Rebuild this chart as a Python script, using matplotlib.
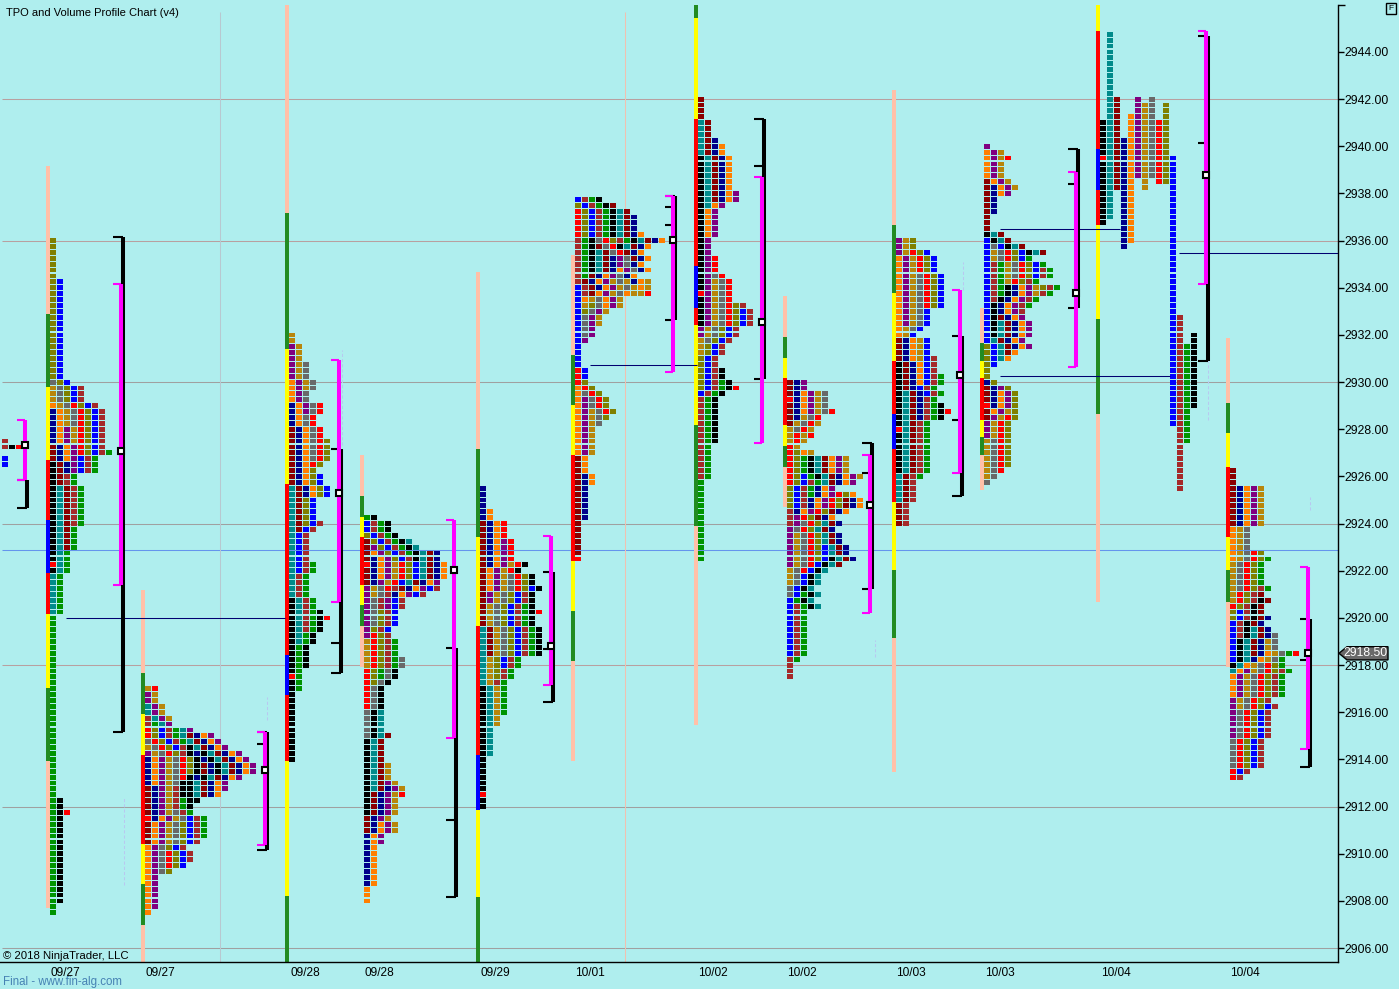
import matplotlib
matplotlib.use("Agg")
import matplotlib.pyplot as plt
from matplotlib.patches import Polygon

plt.rcParams['font.family'] = ['Liberation Sans', 'DejaVu Sans']

BG = "#AFEEEE"
tpo_colors = {"K": "#000000", "T": "#008B8B", "M": "#8B0000", "N": "#00008B", "O": "#FF7F00",
              "P": "#800080", "G": "#B8860B", "Y": "#696969", "R": "#FF0000", "L": "#808000",
              "B": "#0000FF", "W": "#A52A2A", "E": "#009400"}
bar_colors = {"p": "#FFC0A8", "g": "#228B22", "y": "#FFFF00", "r": "#FF0000", "b": "#0000FF"}

# each session: time ordered periods (colour, high, low), cells stack left to right per price row
s0 = [("W", 2927.5, 2927.25), ("B", 2926.75, 2926.5), ("K", 2927.25, 2927.25), ("R", 2927.25, 2927.25)]
s1 = [("K", 2926.5, 2922), ("T", 2925.5, 2920.25), ("M", 2927.25, 2923), ("N", 2928.75, 2926.25),
      ("O", 2929, 2926.75), ("P", 2928, 2926.25), ("G", 2929.75, 2927.5), ("Y", 2930, 2928.25),
      ("R", 2929, 2927), ("L", 2936, 2927), ("B", 2934.25, 2926.25), ("W", 2929.75, 2924),
      ("E", 2927, 2907.5), ("K", 2912.25, 2908), ("R", 2911.75, 2911.75)]
s2 = [("M", 2912.75, 2910.5), ("N", 2914, 2911.5), ("O", 2914, 2913), ("O", 2911.5, 2907.5),
      ("P", 2914.25, 2907.75), ("G", 2914.5, 2910.5), ("Y", 2914.75, 2913), ("Y", 2911.75, 2909.25),
      ("R", 2915.25, 2913.25), ("R", 2910, 2909.5), ("L", 2915.25, 2913.5), ("L", 2911.25, 2909.25),
      ("B", 2915.25, 2914.5), ("B", 2911.5, 2909.5), ("W", 2915.75, 2914.25), ("W", 2912.75, 2909.75),
      ("E", 2915.5, 2914.75), ("E", 2912.25, 2910.75), ("K", 2914.5, 2912.25), ("M", 2913.75, 2913.5),
      ("N", 2914.25, 2913.25), ("K", 2914.25, 2912), ("T", 2916.25, 2912.5), ("M", 2915, 2912.5),
      ("N", 2915, 2912.5), ("O", 2915, 2912.5), ("P", 2916.75, 2912.75), ("G", 2917, 2915.75),
      ("R", 2917, 2917)]
s3 = [("K", 2920.75, 2914), ("T", 2925.5, 2919), ("M", 2928, 2923.75), ("N", 2929, 2925.25),
      ("O", 2930, 2925.25), ("P", 2931.5, 2928.75), ("G", 2932, 2929.75), ("Y", 2930.75, 2926.75),
      ("R", 2929, 2926.5), ("L", 2927.5, 2924), ("B", 2926, 2922), ("W", 2924, 2919.5),
      ("E", 2922.25, 2917), ("K", 2920.25, 2918), ("R", 2920, 2920)]
s4 = [("M", 2923.25, 2921.5), ("N", 2922.5, 2921.5), ("O", 2922.75, 2921.75), ("P", 2923, 2919.25),
      ("G", 2922.25, 2921), ("G", 2919, 2918), ("Y", 2921.25, 2919.75), ("R", 2922.25, 2921.25),
      ("R", 2919.25, 2916.25), ("L", 2923.5, 2921.75), ("L", 2920.25, 2917.25), ("B", 2924, 2921.5),
      ("W", 2924, 2922.5), ("W", 2921.25, 2918), ("E", 2924.25, 2922.75), ("E", 2919, 2917.5),
      ("Y", 2918.25, 2915), ("K", 2924.25, 2922.5), ("K", 2917.75, 2911.75), ("T", 2923.25, 2921.5),
      ("T", 2916, 2912.75), ("M", 2922.75, 2921.25), ("M", 2915, 2911), ("N", 2922.75, 2921),
      ("N", 2912.75, 2908.75), ("O", 2922.25, 2921), ("O", 2911.25, 2908), ("P", 2921.5, 2920.5),
      ("P", 2913, 2910.5), ("B", 2921.25, 2919.5), ("W", 2921.25, 2920.5), ("G", 2913.75, 2911),
      ("R", 2912.5, 2912.5)]
s5 = [("K", 2917, 2912), ("T", 2919.5, 2914.25), ("M", 2924, 2918.5), ("N", 2925.5, 2922.25),
      ("O", 2924.5, 2921.25), ("P", 2923.25, 2920.75), ("G", 2922.25, 2915.5), ("Y", 2921.75, 2918.5),
      ("R", 2924, 2921.25), ("L", 2921.75, 2917.5), ("B", 2921.25, 2918), ("W", 2921, 2917.25),
      ("E", 2920.5, 2916), ("K", 2922.25, 2918.5), ("R", 2920.25, 2920.25)]
s6 = [("M", 2926.75, 2922.5), ("N", 2926, 2924.25), ("O", 2929.75, 2925.75), ("P", 2929.25, 2927),
      ("G", 2928.75, 2927), ("Y", 2929.5, 2928.25), ("R", 2930.5, 2928.75), ("L", 2930, 2928.5),
      ("B", 2934, 2930.25), ("W", 2936, 2933.75), ("E", 2936, 2934.5), ("K", 2936, 2934.75),
      ("T", 2935.5, 2934.75), ("M", 2935.75, 2933.75), ("N", 2935.25, 2934), ("O", 2934.75, 2933.5),
      ("P", 2935.25, 2933.75), ("G", 2934.25, 2933.25), ("L", 2933.25, 2933), ("Y", 2936, 2932),
      ("O", 2933.75, 2933.25), ("P", 2933.5, 2931.75), ("G", 2934.25, 2932.5), ("R", 2937.25, 2935.5),
      ("L", 2937.5, 2936), ("B", 2937.75, 2936.25), ("W", 2937.75, 2936), ("E", 2937.75, 2936),
      ("K", 2937.75, 2935.75), ("T", 2937.25, 2935.75), ("M", 2937.5, 2935.25), ("N", 2937, 2934.25),
      ("O", 2936.25, 2934), ("G", 2934.25, 2933.75), ("R", 2933.75, 2933.75)]
s7 = [("K", 2939.5, 2932.5), ("T", 2941, 2937.5), ("M", 2942, 2937.75), ("N", 2940.25, 2937.75),
      ("O", 2940, 2936.25), ("P", 2938, 2932), ("G", 2934.25, 2931.25), ("Y", 2934.5, 2931.75),
      ("R", 2935.25, 2932.5), ("L", 2933.25, 2929.75), ("B", 2933, 2929.5), ("W", 2933.25, 2926),
      ("E", 2930, 2922.5), ("K", 2930.5, 2927.5), ("R", 2929.75, 2929.75)]
s8 = [("M", 2930, 2928.25), ("N", 2930, 2928.5), ("O", 2929.5, 2928.75), ("P", 2930, 2928.75),
      ("G", 2929.5, 2927.5), ("Y", 2929.5, 2928), ("R", 2928.75, 2925.75), ("L", 2927, 2924.75),
      ("B", 2926, 2924.75), ("W", 2925.75, 2924), ("E", 2926.75, 2925.25), ("K", 2926.75, 2926),
      ("T", 2926.75, 2925.75), ("M", 2926.75, 2925.75), ("N", 2926, 2924.5), ("O", 2927, 2924.5),
      ("P", 2926.75, 2924), ("G", 2928.25, 2926), ("R", 2927.75, 2927.75), ("P", 2923.75, 2922.25),
      ("G", 2923.5, 2921.5), ("Y", 2924, 2921), ("R", 2925.25, 2922), ("L", 2925.25, 2922.5),
      ("B", 2923, 2918.5), ("W", 2920.5, 2917.5), ("E", 2921, 2918.25), ("K", 2922.5, 2920.5),
      ("T", 2924, 2920.5), ("M", 2925, 2922.25), ("N", 2925, 2922.5), ("O", 2925.25, 2924.25)]
s9 = [("K", 2930.75, 2926.25), ("T", 2929.5, 2925), ("M", 2931.75, 2924), ("N", 2931.75, 2928.5),
      ("O", 2935.25, 2930), ("P", 2936, 2932.5), ("G", 2936, 2931), ("Y", 2934.5, 2932.25),
      ("R", 2935.5, 2933.25), ("L", 2936, 2933.25), ("B", 2935.5, 2929.5), ("W", 2931, 2924),
      ("E", 2930.25, 2926), ("K", 2929, 2928.5), ("R", 2928.75, 2928.75)]
s10 = [("M", 2929.75, 2928.5), ("N", 2930, 2929), ("O", 2929.5, 2928.75), ("P", 2929.75, 2927.75),
       ("G", 2928.75, 2926), ("Y", 2927.5, 2925.75), ("R", 2928.5, 2926.25), ("L", 2931.5, 2926.5),
       ("B", 2936, 2930.75), ("W", 2935, 2933.5), ("E", 2935, 2933.75), ("K", 2934, 2932),
       ("T", 2932.5, 2931), ("M", 2938.5, 2936.5), ("M", 2932.75, 2931.25), ("N", 2938.25, 2937.25),
       ("N", 2934, 2931.5), ("O", 2939.75, 2938), ("O", 2934, 2931), ("P", 2940, 2938),
       ("P", 2934, 2931.5), ("G", 2939.75, 2938.25), ("G", 2935.5, 2933.75), ("R", 2939.5, 2939.5),
       ("Y", 2935.75, 2934.5), ("R", 2935.5, 2934.25), ("L", 2935.5, 2934), ("B", 2935.75, 2934.5),
       ("W", 2934.75, 2933), ("E", 2935.25, 2933.25), ("K", 2936.25, 2935.5), ("T", 2936.25, 2935.5),
       ("M", 2936.25, 2935.5)]
s11 = [("K", 2941, 2936.75), ("T", 2944.75, 2937), ("M", 2942, 2938.25), ("N", 2940.25, 2935.75),
       ("O", 2941.25, 2936), ("P", 2942, 2938.75), ("G", 2941.75, 2938.25), ("Y", 2942, 2938.75),
       ("R", 2941, 2938.5), ("L", 2941.75, 2938.5), ("B", 2939.5, 2928.25), ("W", 2932.75, 2925.5),
       ("E", 2931.5, 2927.5), ("K", 2932, 2929)]
s12 = [("M", 2926.25, 2924), ("N", 2925.5, 2924), ("O", 2925.5, 2922.5), ("P", 2925.5, 2924),
       ("G", 2925.5, 2920.75), ("Y", 2923.75, 2921.25), ("R", 2922.75, 2920.5), ("L", 2922.75, 2920),
       ("B", 2920.25, 2918.25), ("W", 2921.25, 2919.25), ("E", 2922.5, 2921.25), ("K", 2920.75, 2918),
       ("T", 2919.5, 2917.75), ("M", 2921, 2918.5), ("N", 2920, 2918.25), ("O", 2918.5, 2916.75),
       ("P", 2917.75, 2915), ("G", 2919, 2916.25), ("Y", 2919.25, 2913.75), ("R", 2918, 2913.25),
       ("L", 2918, 2913.75), ("B", 2916.25, 2913.5), ("W", 2917.75, 2913.25), ("E", 2918.5, 2916.75),
       ("R", 2918.5, 2918.5)]
profiles = [s0, s1, s2, s3, s4, s5, s6, s7, s8, s9, s10, s11, s12]
profile_x0 = [2, 50, 145, 289, 364, 480, 575, 698, 787, 896, 984, 1100, 1230]
open_price = [None, 2922.25, 2911.5, 2917.5, 2922.25, 2912.5, 2922.5, 2933.75, 2929.25, 2928, 2929, 2939.5, None]
fixed_columns = [False] * 11 + [True, False]

# session bar left of each profile
bar_x = [48, 143, 287, 362, 478, 573, 696, 785, 894, 982, 1098, 1228]
bar_edges = [[2939.17, 2932.89, 2929.79, 2926.68, 2924.15, 2921.9, 2920.17, 2917.03, 2913.93, 2907.7],
             [2921.18, 2917.66, 2915.93, 2914.19, 2910.41, 2908.72, 2906.98, 2905.41],
             [2945.99, 2937.17, 2931.4, 2925.68, 2918.43, 2916.73, 2913.93, 2908.21, 2905.41],
             [2926.91, 2925.17, 2924.28, 2923.43, 2921.4, 2920.55, 2919.64, 2917.92],
             [2934.67, 2927.16, 2923.43, 2919.66, 2914.19, 2911.85, 2908.16, 2905.41],
             [2935.41, 2931.15, 2929.03, 2926.91, 2922.41, 2920.29, 2918.19, 2913.95],
             [2945.99, 2945.44, 2941.16, 2934.92, 2933.14, 2932.42, 2928.18, 2923.9, 2915.46],
             [2933.65, 2931.91, 2931.02, 2930.17, 2928.18, 2927.29, 2926.4, 2924.7],
             [2942.39, 2936.66, 2933.78, 2930.9, 2928.65, 2927.16, 2924.92, 2922.03, 2919.15, 2913.47],
             [2933.14, 2931.66, 2930.9, 2930.17, 2928.39, 2927.67, 2926.91, 2925.43],
             [2945.99, 2944.89, 2939.89, 2938.15, 2936.66, 2932.68, 2928.65, 2920.68],
             [2931.87, 2929.11, 2927.84, 2926.4, 2923.43, 2922.03, 2920.68, 2917.92]]
bar_seq = ["pgyrbrygp", "pgyrygp", "pgyrbryg", "pgyrygp", "pgyrbyg", "pgyrygp",
           "gyrbrygp", "pgyrygp", "pgyrbrygp", "pgyrygp", "yrbrygp", "pgyrygp"]

# value area (magenta) and range (black) brackets, point of control
bracket_x = [25, 121, 265, 339, 454, 551, 673, 762, 870, 960, 1076, 1206, 1308]
va_high = [2928.39, 2934.16, 2915.16, 2930.94, 2924.15, 2923.47, 2937.89, 2938.7, 2926.91, 2933.91, 2938.91, 2944.89, 2922.16]
va_low = [2925.85, 2921.4, 2910.37, 2920.68, 2914.91, 2917.15, 2930.43, 2927.42, 2920.21, 2926.15, 2930.64, 2934.16, 2914.44]
range_high = [2925.85, 2936.15, 2915.16, 2927.16, 2918.72, 2921.95, 2937.89, 2941.16, 2927.42, 2931.96, 2939.89, 2944.68, 2919.95]
range_low = [2924.66, 2915.16, 2910.16, 2917.66, 2908.16, 2916.43, 2932.63, 2930.13, 2921.23, 2925.17, 2933.14, 2930.9, 2913.68]
range_ticks = [[], [], [2914.65], [2918.94], [2911.43], [2918.68], [2937.43, 2936.66], [2939.17],
               [2926.15], [2928.39], [2938.4], [2940.14], [2918.2]]
poc = [2927.33, 2927.08, 2913.55, 2925.3, 2922.03, 2918.8, 2936.03, 2932.55, 2924.79, 2930.3, 2933.78, 2938.78, 2918.5]

grid_prices = [2942, 2936, 2930, 2924, 2918, 2912, 2906]
grid_colors = ["#B8A0A0", "#B8A0A0", "#A0A0A0", "#A0A0A0", "#B8A0A0", "#A0A0A0", "#A0A0A0"]
naked_poc = [(66, 285, 2920.0), (590, 697, 2930.73), (1000, 1120, 2936.5), (1000, 1170, 2930.26), (1179, 1338, 2935.48)]
faint_x = [124, 267, 342, 1208, 875, 963, 1310]
faint_hi = [2912.41, 2916.65, 2931.36, 2930.9, 2919.06, 2935.09, 2925.13]
faint_lo = [2908.67, 2915.67, 2927.33, 2928.39, 2918.34, 2933.91, 2924.58]
date_x = [65, 160, 305, 379, 495, 590, 713, 802, 911, 1000, 1116, 1245]
date_labels = ["09/27", "09/27", "09/28", "09/28", "09/29", "10/01", "10/02", "10/02", "10/03", "10/03", "10/04", "10/04"]
price_ticks = list(range(2906, 2946, 2))
last_price = 2918.5

fig = plt.figure(figsize=(13.99, 9.89), dpi=100, facecolor=BG)
ax = fig.add_axes([0, 27 / 989, 1338 / 1399, 957 / 989], facecolor=BG)
ax.set_xlim(0, 1338)
ax.set_ylim(2905.41, 2945.99)
for side in ["top", "left"]:
    ax.spines[side].set_visible(False)
ax.spines["right"].set_linewidth(1)
ax.spines["bottom"].set_linewidth(1)

ax.hlines(grid_prices, 2, 1338, colors=grid_colors, lw=0.75, zorder=1)
ax.hlines(2922.87, 2, 1338, colors="#6495ED", lw=0.75, zorder=1)
ax.vlines(220, 2905.41, 2945.7, colors="#B8C8D0", lw=0.75, zorder=1)
ax.vlines(625, 2905.41, 2945.7, colors="#F0C0B0", lw=0.75, zorder=1)
ax.vlines(faint_x, faint_lo, faint_hi, colors="#B8C8F0", lw=0.75, linestyles=(0, (3, 2)), zorder=1)

# session bars
for x, edges, seq in zip(bar_x, bar_edges, bar_seq):
    for i, c in enumerate(seq):
        ax.bar(x, edges[i] - edges[i + 1], width=4, bottom=edges[i + 1], color=bar_colors[c], zorder=2, antialiased=False)

# tpo cells
xs, ys, cs = [], [], []
for periods, x0, op, fixed in zip(profiles, profile_x0, open_price, fixed_columns):
    rows = {}
    for k, (c, hi, lo) in enumerate(periods):
        for j in range(int(round((hi - lo) / 0.25)) + 1):
            rows.setdefault(lo + j * 0.25, []).append((k, c))
    for p, cells in rows.items():
        for col, (k, c) in enumerate(cells):
            xs.append(x0 + (k if fixed else col) * 7 + 3)
            ys.append(p)
            cs.append("#FF0000" if (p == op and col == 0) else tpo_colors[c])
ax.bar(xs, 0.205, width=6, bottom=[y - 0.1025 for y in ys], color=cs, zorder=3, antialiased=False)

for x0, x1, y in naked_poc:
    ax.hlines(y, x0, x1, colors="#000070", lw=0.75, zorder=4)

# brackets
for x, vh, vl, rh, rl, ticks, pc in zip(bracket_x, va_high, va_low, range_high, range_low, range_ticks, poc):
    ax.vlines(x + 2, rl, rh, colors="black", lw=2.9, capstyle="butt", zorder=5)
    ax.hlines([rh, rl] + ticks, x - 8, x + 2, colors="black", lw=1.5, zorder=5)
    ax.vlines(x, vl, vh, colors="#FF00FF", lw=2.9, capstyle="butt", zorder=6)
    ax.hlines([vh, vl], x - 8, x, colors="#FF00FF", lw=1.5, zorder=6)
    ax.plot([x], [pc], marker="s", ms=4.4, mfc="white", mec="black", mew=1.5, zorder=7)

ax.set_xticks(date_x)
ax.set_xticklabels(date_labels, fontsize=8.6)
ax.tick_params(axis="x", length=0, pad=3.6)
ax.yaxis.tick_right()
ax.set_yticks(price_ticks)
ax.set_yticklabels(["%.2f" % p for p in price_ticks], fontsize=8.7)
ax.tick_params(axis="y", length=4, width=1, pad=0.6)
ax.hlines(2945.99, 1338, 1345, colors="black", lw=1, clip_on=False, zorder=8)

# last price tag
tag = Polygon([(1339, last_price), (1347, last_price + 0.28), (1388, last_price + 0.28),
               (1388, last_price - 0.28), (1347, last_price - 0.28)], closed=True,
              facecolor="#696969", edgecolor="black", lw=1, clip_on=False, zorder=8)
ax.add_patch(tag)
ax.text(1366, last_price, "2918.50", color="white", fontsize=8.7, ha="center", va="center", zorder=9)

fig.text(6 / 1399, 1 - 12.5 / 989, "TPO and Volume Profile Chart (v4)", fontsize=8, va="center")
fig.text(3 / 1399, 1 - 956 / 989, "© 2018 NinjaTrader, LLC", fontsize=8.2, va="center", zorder=10)
fig.text(3 / 1399, 1 - 982 / 989, "Final - www.fin-alg.com", fontsize=8.3, color="#4682B4", va="center")
fig.text(1391 / 1399, 1 - 8.5 / 989, "F", fontsize=6, ha="center", va="center",
         bbox=dict(boxstyle="square,pad=0.25", fc=BG, ec="black", lw=1))

fig.savefig("out.png", dpi=100, facecolor=BG)
